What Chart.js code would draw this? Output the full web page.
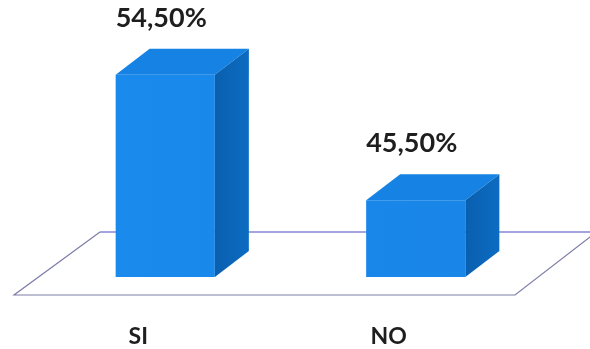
<!DOCTYPE html>
<html>
<head>
<meta charset="utf-8">
<script src="https://cdn.jsdelivr.net/npm/chart.js@4/dist/chart.umd.min.js"></script>
<style>
  html, body { margin: 0; padding: 0; background: #ffffff; }
  #wrap { width: 590px; height: 349px; }
</style>
</head>
<body>
<div id="wrap"><canvas id="chart"></canvas></div>
<script>
const categories = ["SI", "NO"];
const values = [54.5, 45.5];
const valueLabels = ["54,50%", "45,50%"];

// profondeur du faux 3D
const depthX = 34;
const depthY = 26;

const floorPlugin = {
  id: "floor",
  beforeDatasetsDraw(chart) {
    const ctx = chart.ctx;
    const a = chart.chartArea;
    const front = a.bottom + 18;
    const back = a.bottom - 45;
    ctx.save();
    ctx.lineWidth = 1.2;
    // bord arriere
    ctx.strokeStyle = "#4b4bc4";
    ctx.beginPath();
    ctx.moveTo(a.left + 60, back);
    ctx.lineTo(chart.width + 5, back);
    ctx.stroke();
    // bords avant et cotes
    ctx.strokeStyle = "#7e7ea8";
    ctx.beginPath();
    ctx.moveTo(a.left + 60, back);
    ctx.lineTo(a.left - 26, front);
    ctx.lineTo(a.right - 26, front);
    ctx.lineTo(a.right + 58, back - 2);
    ctx.stroke();
    ctx.restore();
  },
  afterDatasetsDraw(chart) {
    const ctx = chart.ctx;
    const meta = chart.getDatasetMeta(0);
    ctx.save();
    meta.data.forEach((bar, i) => {
      const half = bar.width / 2;
      const l = bar.x - half;
      const r = bar.x + half;
      const top = bar.y;
      const base = Math.min(bar.base, chart.chartArea.bottom);

      // face du dessus
      ctx.fillStyle = "#1683e4";
      ctx.beginPath();
      ctx.moveTo(l, top);
      ctx.lineTo(l + depthX, top - depthY);
      ctx.lineTo(r + depthX, top - depthY);
      ctx.lineTo(r, top);
      ctx.closePath();
      ctx.fill();

      // face de cote
      const g = ctx.createLinearGradient(r, 0, r + depthX, 0);
      g.addColorStop(0, "#0a5faf");
      g.addColorStop(1, "#0c6cc2");
      ctx.fillStyle = g;
      ctx.beginPath();
      ctx.moveTo(r, top);
      ctx.lineTo(r + depthX, top - depthY);
      ctx.lineTo(r + depthX, base - depthY);
      ctx.lineTo(r, base);
      ctx.closePath();
      ctx.fill();

      // etiquette de valeur
      ctx.fillStyle = "#1e1e1e";
      ctx.font = "bold 27px Lato, 'Liberation Sans', sans-serif";
      ctx.textAlign = "center";
      ctx.textBaseline = "alphabetic";
      ctx.fillText(valueLabels[i], bar.x - 4, top - 48);
    });
    ctx.restore();
  }
};

const ctx = document.getElementById("chart");
new Chart(ctx, {
  type: "bar",
  data: {
    labels: categories,
    datasets: [
      {
        data: values,
        backgroundColor: (c) => {
          const area = c.chart.chartArea;
          if (!area) return "#1a8cf0";
          const g = c.chart.ctx.createLinearGradient(0, 0, c.chart.width, 0);
          g.addColorStop(0, "#1a8bee");
          g.addColorStop(1, "#1884e6");
          return g;
        },
        borderWidth: 0,
        barPercentage: 0.396,
        categoryPercentage: 1,
      },
    ],
  },
  options: {
    responsive: true,
    maintainAspectRatio: false,
    animation: false,
    layout: { padding: { left: 40, right: 49, top: 40, bottom: 1 } },
    plugins: {
      legend: { display: false },
      tooltip: { enabled: false },
    },
    scales: {
      x: {
        grid: { display: false, drawTicks: false },
        border: { display: false },
        afterFit: (scale) => {
          scale.height = 71;
        },
        ticks: {
          padding: 48,
          labelOffset: -27,
          color: "#1e1e1e",
          font: { family: "Lato", weight: "bold", size: 23, lineHeight: 1 },
        },
      },
      y: {
        display: false,
        min: 40,
        max: 57,
      },
    },
  },
  plugins: [floorPlugin],
});
</script>
</body>
</html>
